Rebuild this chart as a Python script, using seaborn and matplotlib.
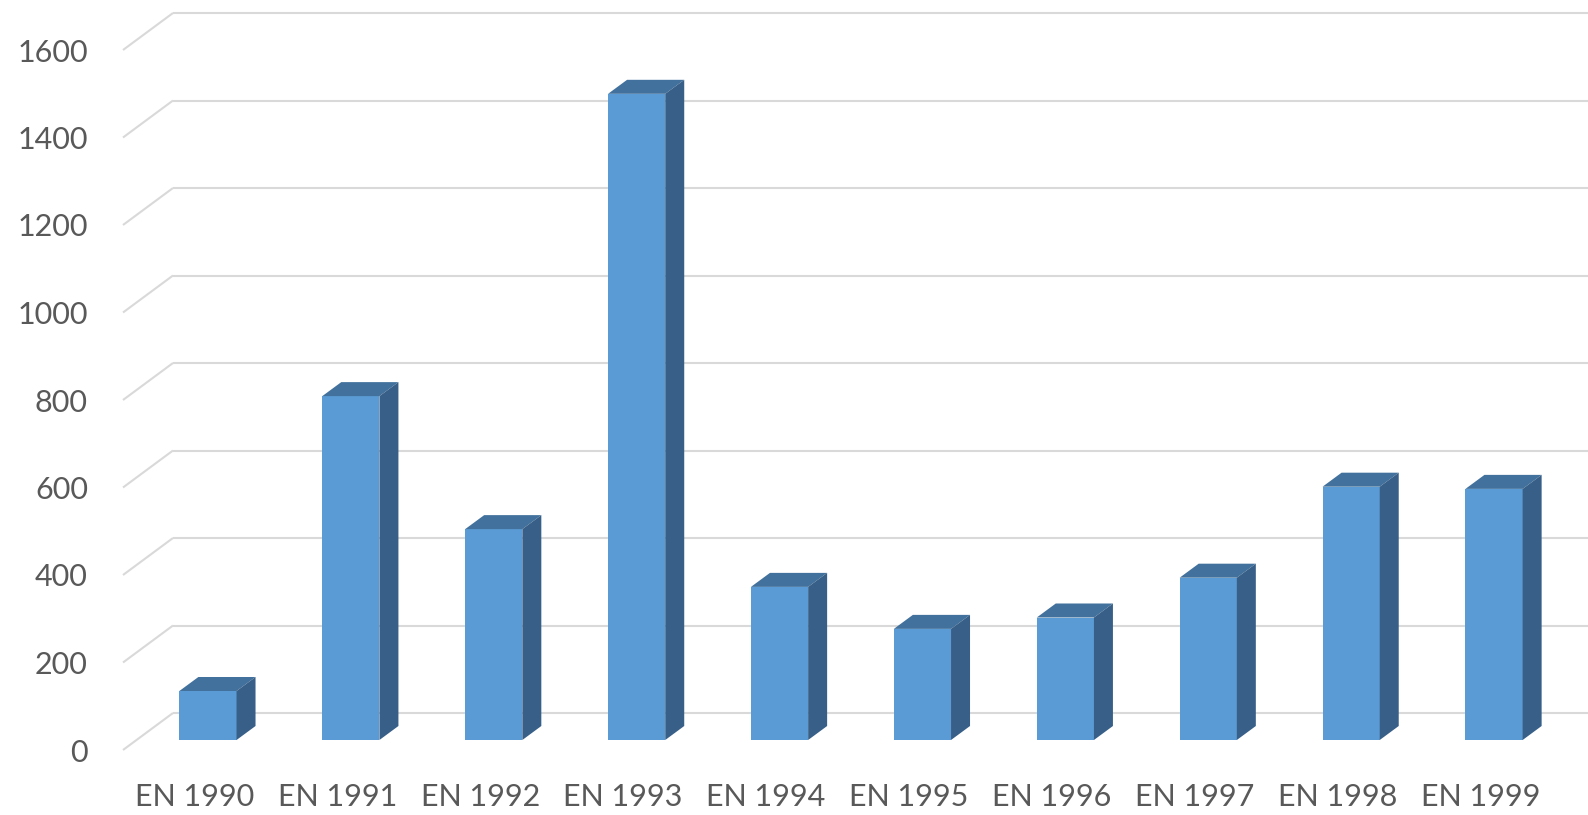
import numpy as np
import pandas as pd
import matplotlib
matplotlib.use("Agg")
import matplotlib.pyplot as plt
import seaborn as sns
from matplotlib.patches import Polygon
from matplotlib.transforms import ScaledTranslation

# ---- data ----
categories = ["EN 1990", "EN 1991", "EN 1992", "EN 1993", "EN 1994",
              "EN 1995", "EN 1996", "EN 1997", "EN 1998", "EN 1999"]
values = [112, 786, 482, 1477, 350, 254, 280, 371, 579, 574]
yticks = [0, 200, 400, 600, 800, 1000, 1200, 1400, 1600]
ytick_labels = [str(v) for v in yticks]

# ---- style ----
FRONT = "#5B9BD5"
TOP = "#41719C"
SIDE = "#385F87"
GRID = "#D9D9D9"
TEXT = "#595959"

sns.set_theme(style="white")
plt.rcParams['font.family'] = ['Lato', 'DejaVu Sans']

W, H, DPI = 1588, 815, 100
fig = plt.figure(figsize=(W / DPI, H / DPI), dpi=DPI)
fig.patch.set_facecolor("white")
ax = fig.add_axes([136.5 / W, 75 / H, 1429 / W, 700 / H])
ax.set_facecolor("none")

df = pd.DataFrame({"cat": categories, "val": values})
sns.barplot(data=df, x="cat", y="val", color=FRONT, saturation=1,
            width=0.4, ax=ax, zorder=3, linewidth=0, errorbar=None)

ax.set_xlim(-0.5, len(categories) - 0.5)
ax.set_ylim(0, 1600)
ax.set_xlabel("")
ax.set_ylabel("")
sns.despine(ax=ax, left=True, bottom=True)

# pixel -> data conversion for the oblique 3D offsets
px_x = (ax.bbox.width / DPI * 100) / (len(categories))
px_y = (ax.bbox.height / DPI * 100) / 1600.0
def off(dxp, dyp):
    return dxp / px_x, dyp / px_y

ddx, ddy = off(19, 14)        # bar depth
fdx, fdy = off(-13.5, -10)    # front plane (floor edge)
wdx, wdy = off(36.5, 27)      # back wall

# 3D faces of bars
for p in list(ax.patches):
    x0, w, h = p.get_x(), p.get_width(), p.get_height()
    top = Polygon([(x0, h), (x0 + w, h), (x0 + w + ddx, h + ddy), (x0 + ddx, h + ddy)],
                  closed=True, facecolor=TOP, edgecolor="none", zorder=3, clip_on=False)
    side = Polygon([(x0 + w, 0), (x0 + w, h), (x0 + w + ddx, h + ddy), (x0 + w + ddx, ddy)],
                   closed=True, facecolor=SIDE, edgecolor="none", zorder=3, clip_on=False)
    ax.add_patch(top)
    ax.add_patch(side)

# perspective gridlines
x_left = -0.5
x_right = len(categories) + 0.5
for v in yticks:
    ax.plot([x_left + fdx, x_left + wdx], [v + fdy, v + wdy], color=GRID,
            lw=1.5, clip_on=False, zorder=1, solid_capstyle="butt")
    ax.plot([x_left + wdx, x_right + wdx], [v + wdy, v + wdy], color=GRID,
            lw=1.5, clip_on=False, zorder=1, solid_capstyle="butt")

# ticks
ax.set_yticks(yticks)
ax.set_yticklabels(ytick_labels)
ax.tick_params(axis="y", length=0, pad=35, labelsize=22, labelcolor=TEXT)
ax.tick_params(axis="x", length=0, pad=31, labelsize=22, labelcolor=TEXT)

for lbl in ax.get_yticklabels():
    lbl.set_transform(lbl.get_transform() + ScaledTranslation(0, -10 / DPI, fig.dpi_scale_trans))
for lbl in ax.get_xticklabels():
    lbl.set_transform(lbl.get_transform() + ScaledTranslation(-13.5 / DPI, 0, fig.dpi_scale_trans))

fig.savefig("out.png", dpi=DPI, facecolor="white")
